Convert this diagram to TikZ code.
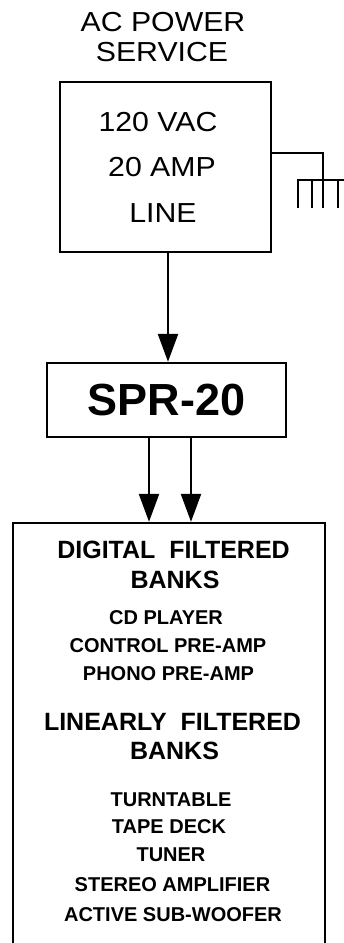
\documentclass[tikz,border=0pt]{standalone}
\usepackage{fontspec}
\setmainfont{Liberation Sans}
\newfontfamily\widefont[FakeStretch=1.1]{Liberation Sans}
\usetikzlibrary{arrows.meta, positioning, calc}

\begin{document}
\begin{tikzpicture}[x=1pt, y=-1pt,
    box/.style={draw, line width=2.4pt, inner sep=0pt},
    arr/.style={-{Triangle[length=28pt,width=20pt]}, line width=2.4pt},
    wire/.style={line width=2.2pt},
    big/.style={font=\widefont\fontsize{27.5}{30}\selectfont},
    head/.style={font=\bfseries\fontsize{25}{28}\selectfont},
    item/.style={font=\bfseries\fontsize{20}{22}\selectfont}]
  \clip (0,0) rectangle (344,943);

  % service
  \node[big] (ac) at (163,22) {AC POWER};
  \node[big] (service) at (162,52) {SERVICE};
  \node[box, minimum width=211pt, minimum height=170pt] (mains) at (165.5,167) {};
  \node[big] (volt) at (158,122) {120 VAC};
  \node[big] (amp) at (162,167) {20 AMP};
  \node[big] (line) at (163,213) {LINE};

  % ground
  \coordinate (gnd) at (323,180);
  \draw[wire] ([yshift=14pt]mains.east) -| (gnd);
  \draw[wire] (297,180) -- (344,180);
  \foreach \x in {298,312,323,338}
    \draw[wire] (\x,180) -- (\x,208);

  % regulator
  \node[box, minimum width=239pt, minimum height=74pt,
        font=\bfseries\fontsize{45}{50}\selectfont] (spr) at (166.5,400) {SPR-20};
  \draw[arr] ([xshift=2.5pt]mains.south) -- ([xshift=1.5pt]spr.north);

  % banks
  \node[box, minimum width=312pt, minimum height=440pt] (banks) at (169,743) {};
  \draw[arr] ([xshift=-17.5pt]spr.south) -- ([xshift=-20pt]banks.north);
  \draw[arr] ([xshift=24.5pt]spr.south) -- ([xshift=22pt]banks.north);

  \node[head] (digital) at (173.5,550) {DIGITAL\ \ FILTERED};
  \node[head] (dbanks) at (175,580) {BANKS};
  \node[item] (cd) at (166,618) {CD PLAYER};
  \node[item] (control) at (168,646) {CONTROL PRE-AMP};
  \node[item] (phono) at (168.5,674) {PHONO PRE-AMP};
  \node[head] (linear) at (172.5,722) {LINEARLY\ \ FILTERED};
  \node[head] (lbanks) at (174.5,751) {BANKS};
  \node[item] (turntable) at (171,800) {TURNTABLE};
  \node[item] (tape) at (169,827) {TAPE DECK};
  \node[item] (tuner) at (171,855) {TUNER};
  \node[item] (stereo) at (172.5,885) {STEREO AMPLIFIER};
  \node[item] (sub) at (173,915) {ACTIVE SUB-WOOFER};
\end{tikzpicture}
\end{document}
